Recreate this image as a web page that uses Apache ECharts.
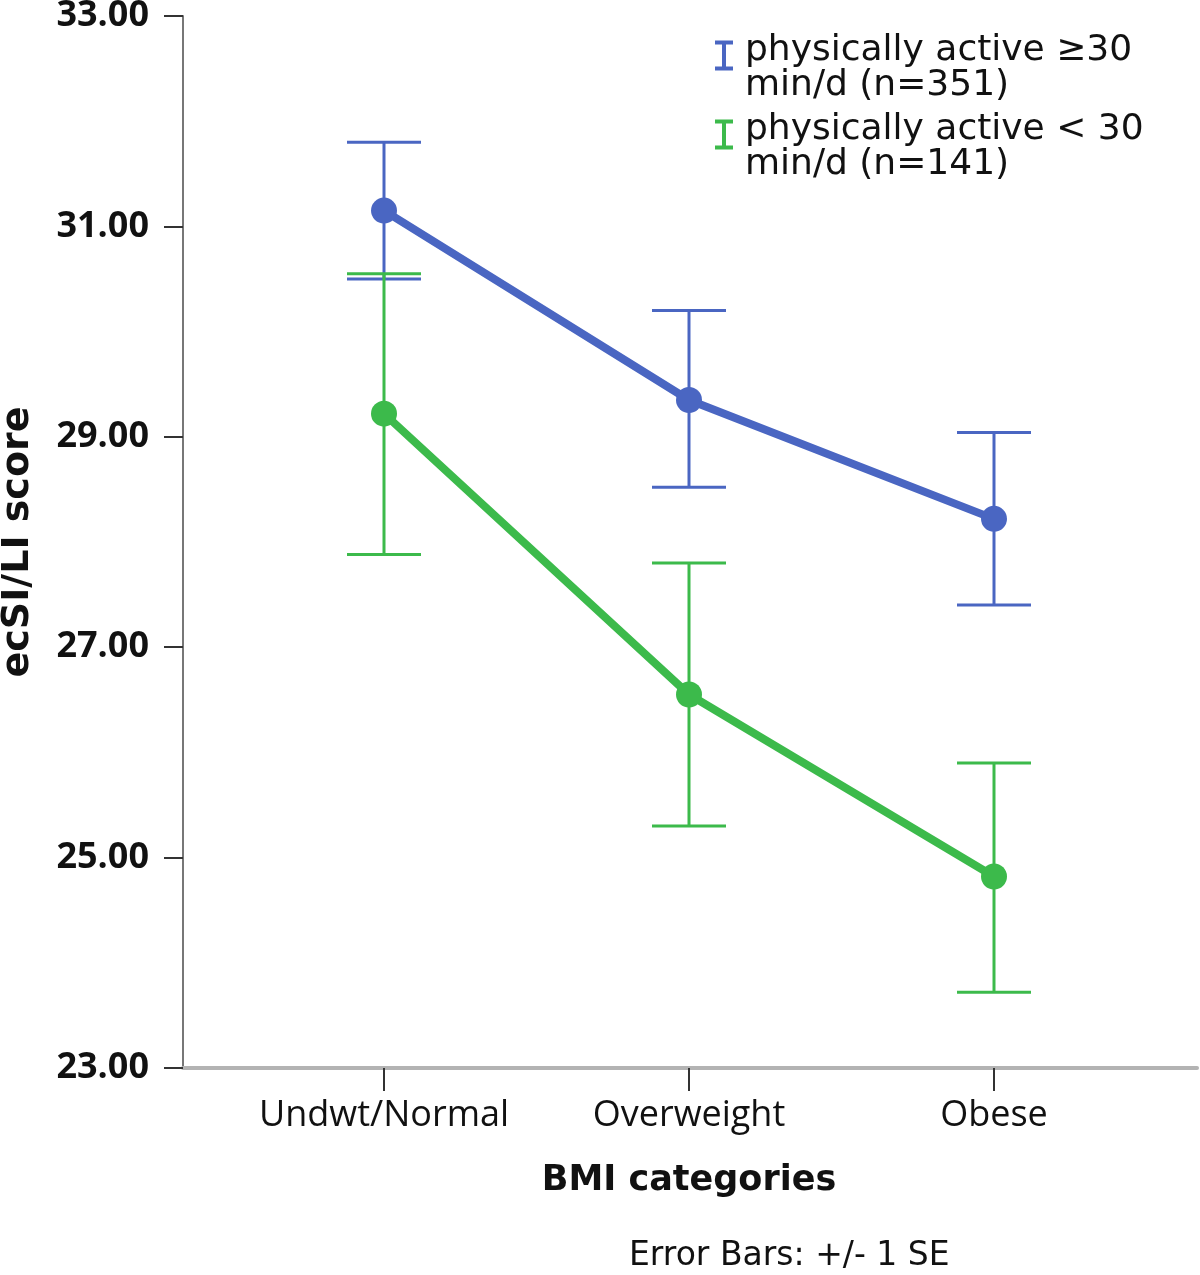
<!DOCTYPE html>
<html><head><meta charset="utf-8">
<script src="https://cdn.jsdelivr.net/npm/echarts@6/dist/echarts.min.js"></script>
<style>html,body{margin:0;padding:0;background:#fff}#c{width:1200px;height:1275px}</style>
</head><body><div id="c"></div>
<script>
const categories = ['Undwt/Normal', 'Overweight', 'Obese'];
const seriesNames = ['physically active ≥30 min/d (n=351)', 'physically active < 30 min/d (n=141)'];
const activeMean = [31.15, 29.35, 28.22];
const activeLow = [30.50, 28.52, 27.40];
const activeHigh = [31.80, 30.20, 29.04];
const inactiveMean = [29.22, 26.55, 24.82];
const inactiveLow = [27.88, 25.30, 23.72];
const inactiveHigh = [30.55, 27.80, 25.90];
const yMin = 23, yMax = 33, yStep = 2;
const xAxisTitle = 'BMI categories';
const yAxisTitle = 'ecSI/LI score';
const footnote = 'Error Bars: +/- 1 SE';

const BLUE = '#4a66c2', GREEN = '#3cba4b';
const FONT = 'DejaVu Sans';
const TICKFONT = 'Open Sans';

function errorBars(name, low, high, color) {
  return {
    type: 'custom', name: name, xAxisIndex: 1, yAxisIndex: 1, z: 1,
    itemStyle: { color: color },
    data: categories.map((c, i) => [i, low[i], high[i]]),
    encode: { x: 0, y: [1, 2] },
    renderItem: function (params, api) {
      const lo = api.coord([api.value(0), api.value(1)]);
      const hi = api.coord([api.value(0), api.value(2)]);
      const half = 37;
      const style = { stroke: color, lineWidth: 3 };
      return { type: 'group', children: [
        { type: 'line', shape: { x1: hi[0], y1: hi[1], x2: lo[0], y2: lo[1] }, style: style },
        { type: 'line', shape: { x1: hi[0] - half, y1: hi[1], x2: hi[0] + half, y2: hi[1] }, style: style },
        { type: 'line', shape: { x1: lo[0] - half, y1: lo[1], x2: lo[0] + half, y2: lo[1] }, style: style }
      ]};
    }
  };
}
function meanLine(name, values, color) {
  return {
    type: 'line', name: name, xAxisIndex: 1, yAxisIndex: 1, z: 3,
    data: values, symbol: 'circle', symbolSize: 26,
    itemStyle: { color: color, borderWidth: 0 },
    lineStyle: { color: color, width: 8 }
  };
}

const chart = echarts.init(document.getElementById('c'), null, { renderer: 'canvas' });
chart.setOption({
  animation: false,
  backgroundColor: '#fff',
  title: { text: footnote, left: 624, top: 1235,
    textStyle: { fontFamily: FONT, fontSize: 33, fontWeight: 'normal', color: '#111' } },
  legend: {
    orient: 'vertical', left: 710, top: 28, selectedMode: false,
    data: seriesNames.map(n => ({ name: n, icon: 'path://M0,0H18V4H11V26H18V30H0V26H7V4H0Z M0,56L18,56Z' })),
    itemWidth: 18, itemHeight: 56, itemGap: 8,
    itemStyle: { borderWidth: 0 },
    formatter: n => n.replace(' min/d', '\nmin/d'),
    textStyle: { fontFamily: FONT, fontSize: 36, lineHeight: 35, color: '#111', padding: [0, 0, 0, 7] }
  },
  grid: [
    { left: 183, top: 16, width: 1014, height: 1052, outerBoundsMode: 'none', containLabel: false },
    { left: 231.5, top: 16, width: 915, height: 1052, outerBoundsMode: 'none', containLabel: false }
  ],
  xAxis: [
    { type: 'value', gridIndex: 0, min: 0, max: 1,
      axisLine: { show: true, onZero: false, lineStyle: { color: '#b3b3b3', width: 4 } },
      axisTick: { show: false }, axisLabel: { show: false }, splitLine: { show: false } },
    { type: 'category', gridIndex: 1, data: categories, boundaryGap: true, position: 'bottom',
      axisLine: { show: false },
      axisTick: { show: true, interval: 0, alignWithLabel: true, length: 23, lineStyle: { color: '#333', width: 2 } },
      axisLabel: { interval: 0, hideOverlap: false, fontFamily: TICKFONT, fontSize: 36, color: '#111', margin: 30 },
      name: xAxisTitle, nameLocation: 'middle', nameGap: 95,
      nameTextStyle: { fontFamily: FONT, fontSize: 35, fontWeight: 'bold', color: '#111' } }
  ],
  yAxis: [
    { type: 'value', gridIndex: 0, min: yMin, max: yMax, interval: yStep,
      axisLine: { show: true, onZero: false, lineStyle: { color: '#777', width: 2 } },
      axisTick: { show: true, length: 19, lineStyle: { color: '#333', width: 2 } },
      axisLabel: { fontFamily: TICKFONT, fontSize: 36, fontWeight: 'bold', color: '#111', margin: 34,
        formatter: v => v.toFixed(2) },
      splitLine: { show: false },
      name: yAxisTitle, nameLocation: 'middle', nameGap: 146,
      nameTextStyle: { fontFamily: FONT, fontSize: 38, fontWeight: 'bold', color: '#111' } },
    { type: 'value', gridIndex: 1, min: yMin, max: yMax, interval: yStep, show: false }
  ],
  series: [
    errorBars(seriesNames[0], activeLow, activeHigh, BLUE),
    errorBars(seriesNames[1], inactiveLow, inactiveHigh, GREEN),
    meanLine(seriesNames[0], activeMean, BLUE),
    meanLine(seriesNames[1], inactiveMean, GREEN)
  ]
});
</script></body></html>
